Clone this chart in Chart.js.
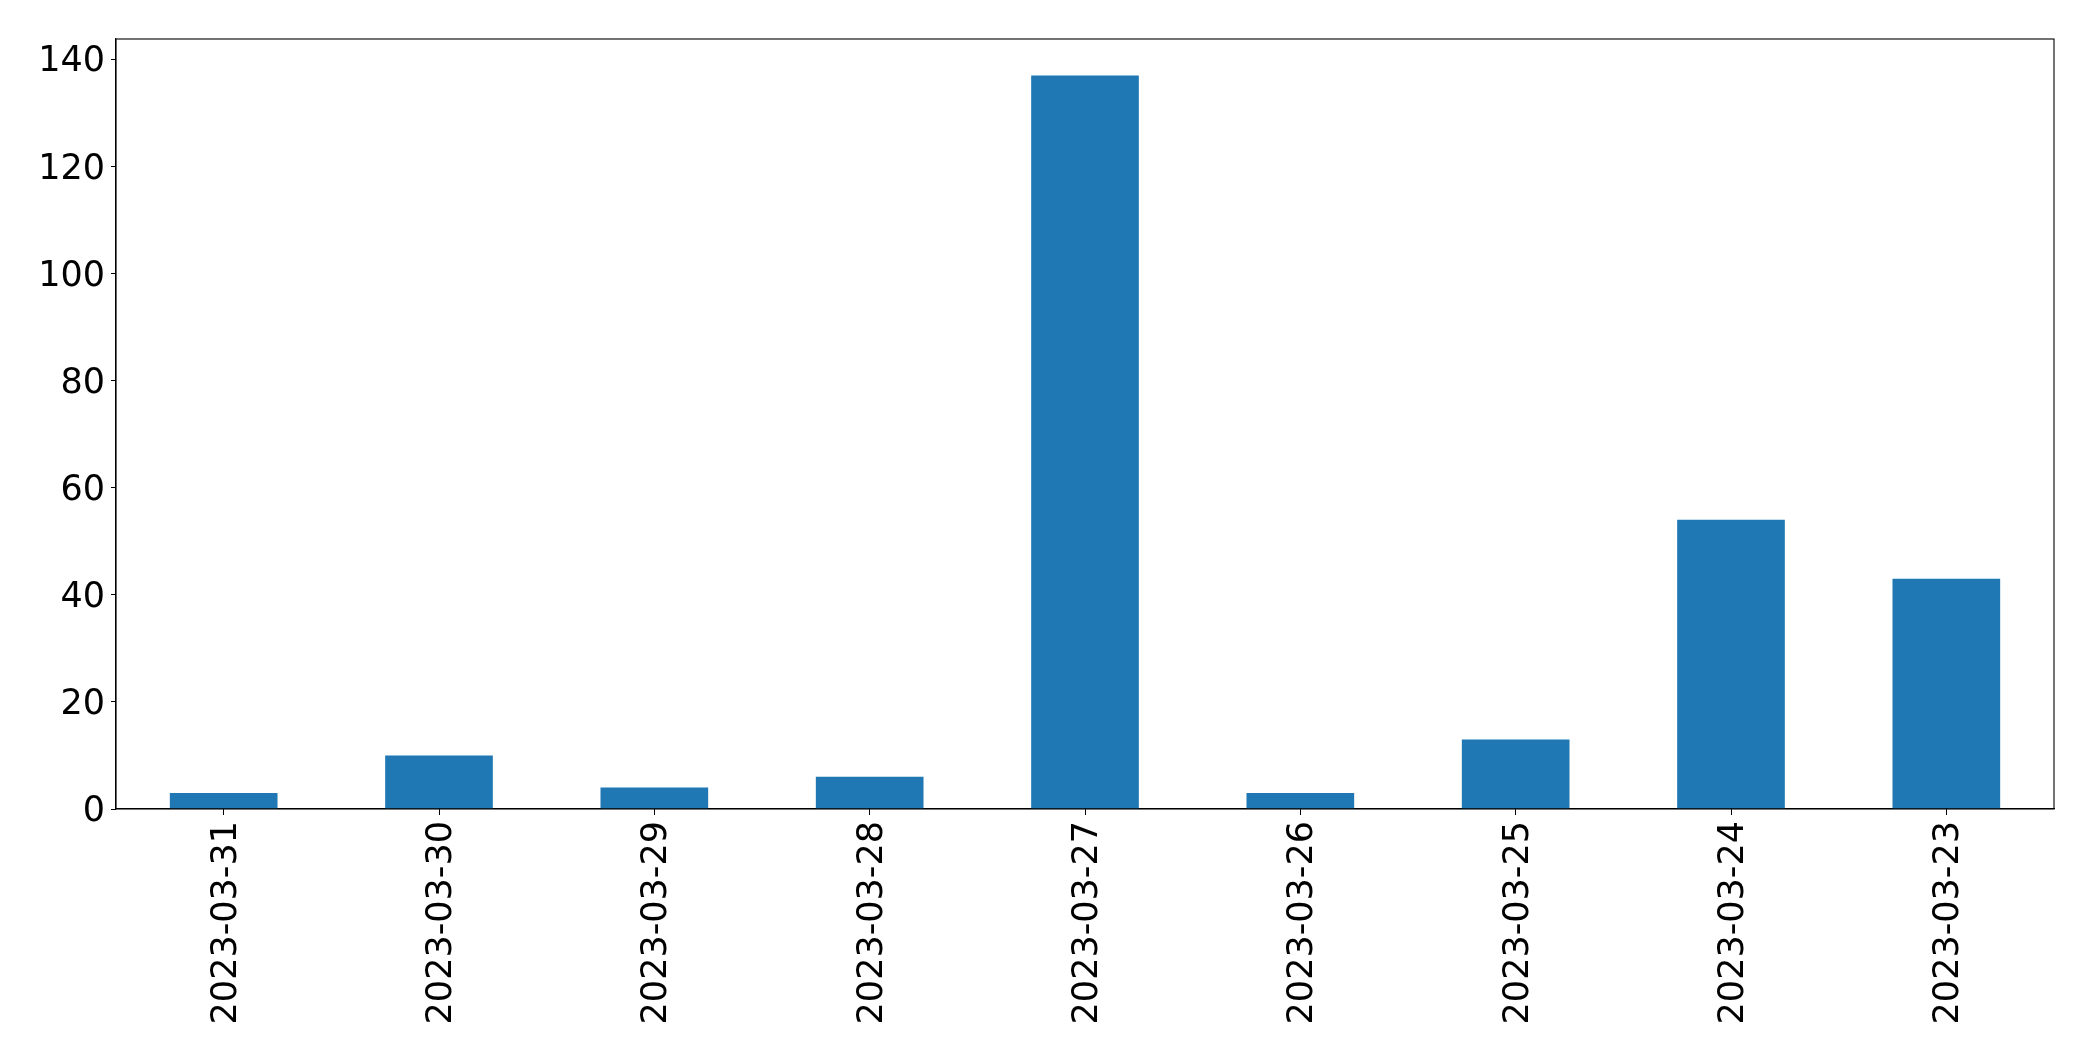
<!DOCTYPE html>
<html>
<head>
<meta charset="utf-8">
<script src="https://cdn.jsdelivr.net/npm/chart.js@4/dist/chart.umd.min.js"></script>
<style>
  html, body { margin: 0; padding: 0; background: #fff; }
  #wrap { width: 2093px; height: 1061px; }
</style>
</head>
<body>
<div id="wrap"><canvas id="chart" width="2093" height="1061"></canvas></div>
<script>
// --- data ---
const dates = ['2023-03-31', '2023-03-30', '2023-03-29', '2023-03-28', '2023-03-27',
               '2023-03-26', '2023-03-25', '2023-03-24', '2023-03-23'];
const counts = [3, 10, 4, 6, 137, 3, 13, 54, 43];
const yTicks = [0, 20, 40, 60, 80, 100, 120, 140];

const FONT = { family: "'DejaVu Sans', sans-serif", size: 35 };

// box around the plot area (matplotlib spines)
const frame = {
    id: 'frame',
    afterDraw(chart) {
        const a = chart.chartArea;
        const ctx = chart.ctx;
        ctx.save();
        ctx.strokeStyle = '#000';
        ctx.lineWidth = 1.1;
        ctx.strokeRect(a.left, a.top, a.right - a.left, a.bottom - a.top);
        ctx.restore();
    }
};

new Chart(document.getElementById('chart'), {
    type: 'bar',
    data: {
        labels: dates,
        datasets: [{
            data: counts,
            backgroundColor: '#1f77b4',
            borderWidth: 0,
            categoryPercentage: 1.0,
            barPercentage: 0.5
        }]
    },
    options: {
        responsive: false,
        animation: false,
        layout: { padding: { top: 39, right: 39, left: 0, bottom: 0 } },
        plugins: { legend: { display: false }, tooltip: { enabled: false } },
        scales: {
            x: {
                offset: true,
                grid: { display: true, drawOnChartArea: false, tickLength: 6, color: '#000', offset: false },
                border: { display: true, color: '#000', width: 1.1 },
                ticks: {
                    color: '#000',
                    font: FONT,
                    minRotation: 90,
                    maxRotation: 90,
                    padding: 6,
                    labelOffset: 3,
                    autoSkip: false
                },
                afterFit(scale) { scale.height = 252; }
            },
            y: {
                min: 0,
                max: 143.8,
                grid: { display: true, drawOnChartArea: false, tickLength: 5, color: '#000' },
                border: { display: true, color: '#000', width: 1.1 },
                ticks: {
                    color: '#000',
                    font: FONT,
                    stepSize: 20,
                    includeBounds: false,
                    padding: 6,
                    labelOffset: 3
                },
                afterBuildTicks(scale) { scale.ticks = yTicks.map(v => ({ value: v })); },
                afterFit(scale) { scale.width = 116; }
            }
        }
    },
    plugins: [frame]
});
</script>
</body>
</html>
